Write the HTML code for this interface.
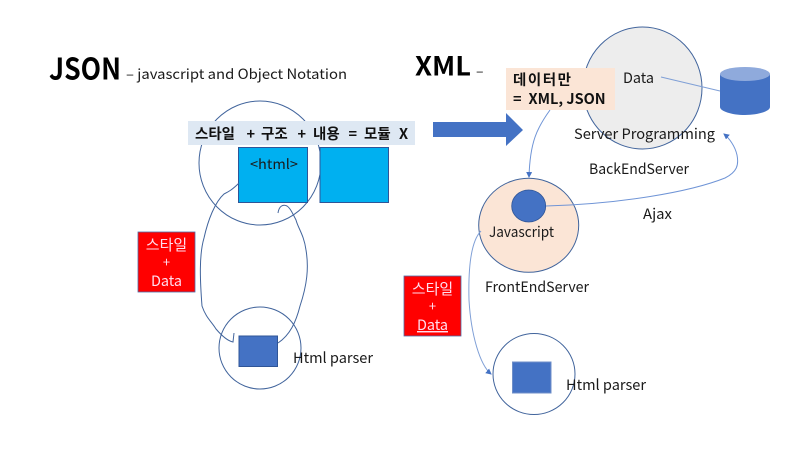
<!DOCTYPE html>
<html><head><meta charset="utf-8"><style>
html,body{margin:0;padding:0;background:#fff}
svg{display:block}
text{font-family:"Noto Sans CJK KR","Liberation Sans",sans-serif;fill:#1a1a1a}
</style></head><body>
<svg width="800" height="450" viewBox="0 0 800 450" xmlns="http://www.w3.org/2000/svg">
<defs>
<marker id="a" markerWidth="7" markerHeight="7" refX="5" refY="3" orient="auto"><path d="M0 0L6 3L0 6Z" fill="#4472c4"/></marker>
</defs>
<rect width="800" height="450" fill="#fff"/>
<text x="49" y="79.500" font-size="30" font-weight="700" style="fill:#000" textLength="72" lengthAdjust="spacingAndGlyphs">JSON</text>
<text x="126" y="79" font-size="14" textLength="221" lengthAdjust="spacingAndGlyphs">– javascript and Object Notation</text>
<text x="415" y="75.500" font-size="26" font-weight="700" style="fill:#000" textLength="56" lengthAdjust="spacingAndGlyphs">XML</text>
<text x="476" y="76" font-size="14">–</text>

<ellipse cx="260" cy="163" rx="61" ry="62" fill="none" stroke="#41649c" stroke-width="1"/>
<rect x="238.500" y="147.500" width="69" height="55" fill="#00b0f0" stroke="#2f5597"/>
<rect x="320" y="147.500" width="68.500" height="55" fill="#00b0f0" stroke="#2f5597"/>
<rect x="188" y="121" width="227" height="24" fill="#dee8f3"/>
<text y="139" font-size="14.500" font-weight="700" style="fill:#111"><tspan x="195">스타일</tspan><tspan x="246.500">+</tspan><tspan x="261">구조</tspan><tspan x="297.500">+</tspan><tspan x="313">내용</tspan><tspan x="348.500">=</tspan><tspan x="364">모듈</tspan><tspan x="399">X</tspan></text>
<text x="250" y="169" font-size="13.500" textLength="48" lengthAdjust="spacingAndGlyphs">&lt;html&gt;</text>
<path d="M239 183C232 190 228 192 224 194C215 202 208 220 204 238C199 255 200 280 202 306C206 318 212 322 216 329C222 336 228 341 233 342L234 333" fill="none" stroke="#41649c" stroke-width="1"/>
<path d="M278 343C290 335 296 322 300 306C307 285 309 268 306 250C304 235 298 228 296 220C292 212 290 208 287 206C283 204 279 206 278 213" fill="none" stroke="#41649c" stroke-width="1"/>
<rect x="138" y="232" width="57" height="60" fill="#f00" stroke="#4f6fa8" stroke-width=".8"/>
<text x="166.500" y="250" font-size="15" text-anchor="middle" style="fill:#fde">스타일</text>
<text x="166.500" y="267" font-size="13" text-anchor="middle" style="fill:#fde">+</text>
<text x="166.500" y="286" font-size="14.500" text-anchor="middle" style="fill:#fde" textLength="31" lengthAdjust="spacingAndGlyphs">Data</text>
<ellipse cx="260" cy="348" rx="41" ry="41" fill="none" stroke="#41649c"/>
<rect x="239" y="336" width="38.500" height="30.500" fill="#4472c4" stroke="#2f5597"/>
<text x="293" y="363" font-size="14.500" textLength="80" lengthAdjust="spacingAndGlyphs">Html parser</text>

<path d="M433 122H506V113L523 130L506 146V137H433Z" fill="#4472c4"/>

<ellipse cx="642.500" cy="88" rx="59.500" ry="61" fill="#ededed" stroke="#41649c"/>
<rect x="506" y="68" width="109" height="42" fill="#fbe5d6"/>
<text x="513" y="85" font-size="14.500" font-weight="700" style="fill:#111" textLength="58" lengthAdjust="spacing">데이터만</text>
<text y="104" font-size="14.500" font-weight="700" style="fill:#111"><tspan x="513">=</tspan><tspan x="528.500">XML, JSON</tspan></text>
<text x="623" y="83" font-size="14.500" textLength="31" lengthAdjust="spacingAndGlyphs">Data</text>
<path d="M661 77L720 91" stroke="#7f9fd6" fill="none"/>
<path d="M720 74V107C720 111 731 115 745 115S770 111 770 107V74Z" fill="#4472c4"/>
<ellipse cx="745" cy="74" rx="25" ry="7" fill="#8faadc"/>
<text x="574" y="139" font-size="14.500" textLength="141" lengthAdjust="spacingAndGlyphs">Server Programming</text>
<text x="589" y="174" font-size="14.500" textLength="100" lengthAdjust="spacingAndGlyphs">BackEndServer</text>

<ellipse cx="528.700" cy="225.300" rx="50" ry="47" fill="#fbe5d6" stroke="#41649c"/>
<ellipse cx="528.700" cy="206" rx="17" ry="16" fill="#4472c4" stroke="#2f5597" stroke-width=".8"/>
<path d="M550 110C537 128 530 142 529 177" fill="none" stroke="#6f94d6" marker-end="url(#a)"/>
<path d="M546 206C620 204 690 192 725 178C737 172 739 165 737 155C735 146 729 138 724 134" fill="none" stroke="#6f94d6" marker-end="url(#a)"/>
<text x="643" y="219" font-size="14.500" textLength="29" lengthAdjust="spacingAndGlyphs">Ajax</text>
<text x="489" y="237" font-size="14.500" textLength="65" lengthAdjust="spacingAndGlyphs">Javascript</text>
<text x="485" y="292" font-size="14.500" textLength="104" lengthAdjust="spacingAndGlyphs">FrontEndServer</text>

<rect x="404" y="276" width="57" height="60" fill="#f00" stroke="#4f6fa8" stroke-width=".8"/>
<text x="432.500" y="294" font-size="15" text-anchor="middle" style="fill:#fde">스타일</text>
<text x="432.500" y="311" font-size="13" text-anchor="middle" style="fill:#fde">+</text>
<text x="432.500" y="330" font-size="14.500" text-anchor="middle" style="fill:#fde" text-decoration="underline" textLength="31" lengthAdjust="spacingAndGlyphs">Data</text>

<ellipse cx="534" cy="374" rx="41" ry="40.500" fill="#fff" stroke="#41649c"/>
<rect x="512.500" y="362" width="38.500" height="31" fill="#4472c4" stroke="#6f8fc8"/>
<text x="566" y="390" font-size="14.500" textLength="80" lengthAdjust="spacingAndGlyphs">Html parser</text>
<path d="M481 231C472 240 468 262 469 300C471 335 480 365 491 374" fill="none" stroke="#7f9fd6" marker-end="url(#a)"/>
</svg>
</body></html>
